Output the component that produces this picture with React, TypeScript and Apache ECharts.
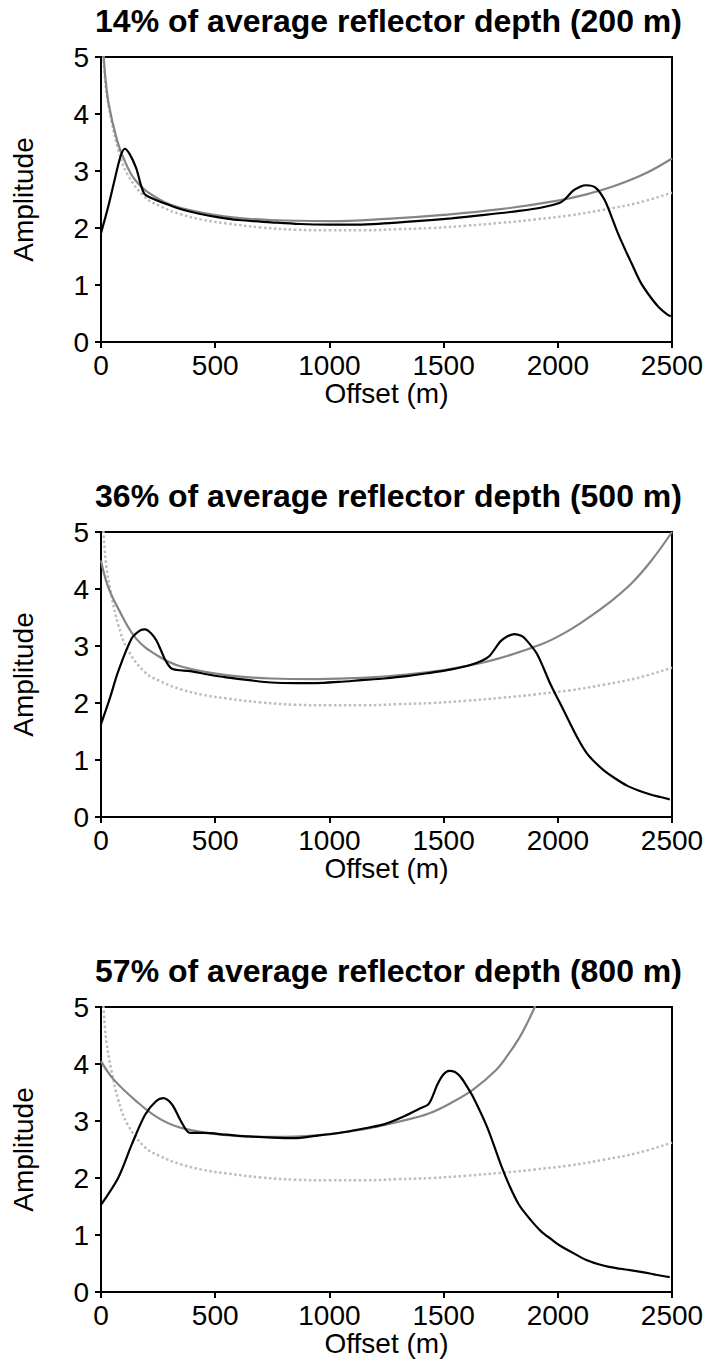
import React, { useEffect, useRef } from "react";
import * as echarts from "echarts";

// ---- Data ----
const titles = [
  "14% of average reflector depth (200 m)",
  "36% of average reflector depth (500 m)",
  "57% of average reflector depth (800 m)",
];
const xTicks = [0, 500, 1000, 1500, 2000, 2500];

// reference curve (dotted, same in every panel)
const refX = [8, 15, 25, 45, 75, 115, 190, 260, 350, 450, 550, 700, 850, 1000, 1150, 1300, 1450, 1600, 1750, 1900, 2050, 2200, 2350, 2500];
const refY = [5.2, 4.75, 4.35, 3.9, 3.38, 2.95, 2.55, 2.38, 2.24, 2.14, 2.08, 2.01, 1.97, 1.96, 1.96, 1.98, 2.0, 2.04, 2.09, 2.15, 2.22, 2.32, 2.44, 2.62];

// panel 1 (200 m)
const theo1X = [8, 12, 20, 35, 65, 95, 154, 252, 351, 548, 745, 1000, 1250, 1500, 1750, 2000, 2125, 2250, 2380, 2500];
const theo1Y = [5.3, 5.0, 4.6, 4.15, 3.62, 3.26, 2.82, 2.51, 2.35, 2.2, 2.14, 2.12, 2.16, 2.23, 2.33, 2.48, 2.59, 2.74, 2.95, 3.22];
const meas1X = [0, 30, 60, 85, 104, 125, 154, 175, 190, 213, 280, 351, 430, 509, 600, 745, 870, 1002, 1120, 1238, 1380, 1534, 1680, 1830, 1930, 2007, 2030, 2066, 2100, 2125, 2165, 2204, 2235, 2263, 2295, 2323, 2362, 2400, 2440, 2480, 2495];
const meas1Y = [1.91, 2.35, 2.85, 3.25, 3.39, 3.3, 3.05, 2.75, 2.6, 2.54, 2.43, 2.33, 2.25, 2.19, 2.14, 2.1, 2.07, 2.06, 2.06, 2.08, 2.12, 2.17, 2.23, 2.3, 2.36, 2.44, 2.5, 2.65, 2.73, 2.75, 2.71, 2.5, 2.2, 1.91, 1.62, 1.38, 1.05, 0.82, 0.62, 0.48, 0.45];

// panel 2 (500 m)
const theo2X = [0, 30, 75, 154, 252, 351, 548, 745, 942, 1140, 1337, 1534, 1731, 1928, 2030, 2125, 2225, 2323, 2410, 2500];
const theo2Y = [4.5, 4.05, 3.66, 3.13, 2.82, 2.64, 2.49, 2.43, 2.42, 2.44, 2.5, 2.6, 2.77, 3.03, 3.23, 3.47, 3.76, 4.1, 4.5, 5.0];
const meas2X = [0, 40, 75, 134, 170, 193, 220, 242, 262, 282, 311, 390, 470, 548, 650, 745, 850, 942, 1040, 1140, 1240, 1337, 1440, 1534, 1620, 1672, 1702, 1730, 1751, 1780, 1810, 1840, 1859, 1909, 1968, 2027, 2086, 2125, 2165, 2204, 2250, 2303, 2350, 2402, 2450, 2490];
const meas2Y = [1.63, 2.1, 2.55, 3.13, 3.27, 3.29, 3.22, 3.1, 2.93, 2.75, 2.6, 2.56, 2.5, 2.45, 2.4, 2.36, 2.35, 2.35, 2.37, 2.4, 2.43, 2.47, 2.53, 2.59, 2.67, 2.75, 2.83, 2.98, 3.09, 3.17, 3.21, 3.18, 3.12, 2.86, 2.33, 1.86, 1.39, 1.13, 0.95, 0.81, 0.68, 0.55, 0.47, 0.4, 0.35, 0.31];

// panel 3 (800 m)
const theo3X = [0, 55, 154, 252, 351, 548, 745, 942, 1140, 1337, 1435, 1534, 1632, 1731, 1780, 1830, 1870, 1899, 1950];
const theo3Y = [4.05, 3.73, 3.35, 3.05, 2.88, 2.75, 2.72, 2.75, 2.85, 3.02, 3.13, 3.32, 3.56, 3.9, 4.15, 4.45, 4.75, 5.0, 5.5];
const meas3X = [0, 75, 134, 193, 242, 272, 311, 351, 390, 449, 550, 647, 750, 844, 940, 1041, 1140, 1238, 1320, 1396, 1435, 1474, 1500, 1524, 1550, 1573, 1600, 1632, 1692, 1751, 1790, 1830, 1880, 1928, 1970, 2007, 2060, 2125, 2175, 2224, 2270, 2323, 2370, 2421, 2460, 2490];
const meas3Y = [1.53, 2.0, 2.58, 3.11, 3.35, 3.4, 3.29, 2.99, 2.79, 2.79, 2.76, 2.73, 2.71, 2.7, 2.74, 2.79, 2.86, 2.94, 3.07, 3.22, 3.3, 3.65, 3.82, 3.88, 3.86, 3.78, 3.62, 3.4, 2.88, 2.23, 1.85, 1.53, 1.27, 1.06, 0.93, 0.82, 0.7, 0.56, 0.49, 0.44, 0.41, 0.38, 0.35, 0.31, 0.28, 0.26];

const theoX = [theo1X, theo2X, theo3X];
const theoY = [theo1Y, theo2Y, theo3Y];
const measX = [meas1X, meas2X, meas3X];
const measY = [meas1Y, meas2Y, meas3Y];

const zip = (xs: number[], ys: number[]) => xs.map((x, i) => [x, ys[i]]);

const FONT = "Liberation Sans, Arial, Helvetica, sans-serif";
const gridTops = [57, 532, 1007];
const GRID_LEFT = 101;
const GRID_W = 571;
const GRID_H = 285;

export default function App() {
  const ref = useRef<HTMLDivElement>(null);
  useEffect(() => {
    if (!ref.current) return;
    const chart = echarts.init(ref.current, null, { renderer: "svg" });
    const grids = gridTops.map((t) => ({
      left: GRID_LEFT,
      top: t,
      width: GRID_W,
      height: GRID_H,
      show: true,
      borderColor: "#000",
      borderWidth: 2,
      backgroundColor: "transparent",
    }));
    const xAxes = gridTops.map((_, i) => ({
      type: "value",
      gridIndex: i,
      min: xTicks[0],
      max: xTicks[xTicks.length - 1],
      interval: 500,
      name: "Offset (m)",
      nameLocation: "middle",
      nameGap: 36,
      nameTextStyle: { color: "#000", fontSize: 28, fontFamily: FONT },
      axisLine: { show: true, onZero: false, lineStyle: { color: "#000", width: 2 } },
      axisTick: { show: true, length: 6, lineStyle: { color: "#000", width: 2 } },
      axisLabel: {
        color: "#000",
        fontSize: 28,
        fontFamily: FONT,
        margin: 9,
        formatter: (v: number) => String(v),
      },
      splitLine: { show: false },
    }));
    const yAxes = gridTops.map((_, i) => ({
      type: "value",
      gridIndex: i,
      min: 0,
      max: 5,
      interval: 1,
      name: "Amplitude",
      nameLocation: "middle",
      nameGap: 64,
      nameRotate: 90,
      nameTextStyle: { color: "#000", fontSize: 28, fontFamily: FONT },
      axisLine: { show: true, lineStyle: { color: "#000", width: 2 } },
      axisTick: { show: true, length: 6, lineStyle: { color: "#000", width: 2 } },
      axisLabel: { color: "#000", fontSize: 28, fontFamily: FONT, margin: 12 },
      splitLine: { show: false },
    }));
    const series: any[] = [];
    gridTops.forEach((_, i) => {
      series.push({
        type: "line",
        xAxisIndex: i,
        yAxisIndex: i,
        data: zip(refX, refY),
        smooth: 0.4,
        showSymbol: false,
        clip: true,
        lineStyle: { color: "#bdbdbd", width: 2.5, type: [2.5, 2.5] },
        z: 2,
      });
      series.push({
        type: "line",
        xAxisIndex: i,
        yAxisIndex: i,
        data: zip(theoX[i], theoY[i]),
        smooth: 0.4,
        showSymbol: false,
        clip: true,
        lineStyle: { color: "#858585", width: 2.2 },
        z: 3,
      });
      series.push({
        type: "line",
        xAxisIndex: i,
        yAxisIndex: i,
        data: zip(measX[i], measY[i]),
        smooth: 0.3,
        showSymbol: false,
        clip: true,
        lineStyle: { color: "#000", width: 2.2 },
        z: 4,
      });
    });
    const graphics = gridTops.map((t, i) => ({
      type: "text",
      x: GRID_LEFT + GRID_W / 2 + 2,
      y: t - 36,
      style: {
        text: titles[i],
        fill: "#000",
        fontSize: 32,
        fontWeight: "bold",
        fontFamily: FONT,
        align: "center",
        verticalAlign: "middle",
      },
    }));
    chart.setOption({
      animation: false,
      backgroundColor: "#fff",
      grid: grids,
      xAxis: xAxes,
      yAxis: yAxes,
      series,
      graphic: graphics,
    });
    return () => chart.dispose();
  }, []);
  return (
    <div
      ref={ref}
      style={{ position: "absolute", left: 0, top: 0, width: 707, height: 1366, background: "#fff" }}
    />
  );
}
